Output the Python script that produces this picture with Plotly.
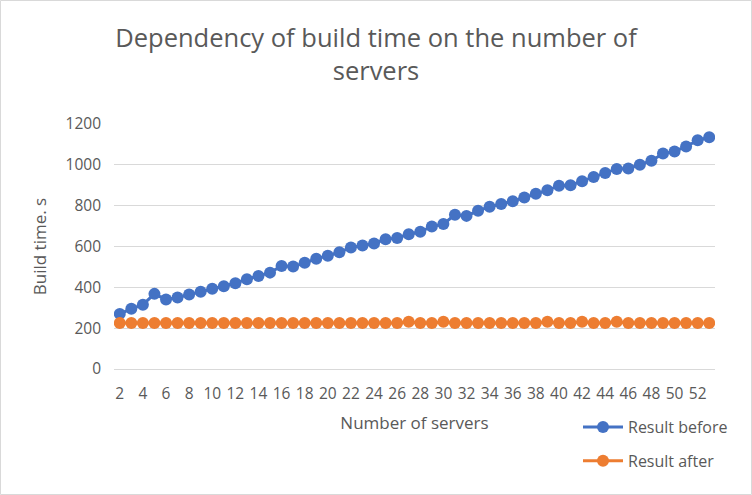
import plotly.graph_objects as go

servers = list(range(2, 54))
result_before = [270, 295, 315, 368, 340, 350, 365, 378, 393, 405, 420, 440, 455, 472,
                 505, 502, 520, 540, 555, 572, 595, 605, 615, 635, 642, 660, 672, 698,
                 710, 755, 750, 775, 795, 808, 822, 840, 858, 875, 898, 900, 920, 940,
                 960, 980, 982, 1000, 1020, 1055, 1065, 1090, 1120, 1135]
result_after = [225, 225, 225, 225, 225, 225, 225, 225, 225, 225, 225, 225, 225, 225,
                225, 225, 225, 225, 225, 225, 225, 225, 225, 225, 225, 231, 225, 225,
                231, 225, 225, 225, 225, 225, 225, 225, 225, 231, 225, 225, 231, 225,
                225, 231, 225, 225, 225, 225, 225, 225, 225, 225]
x_ticks = list(range(2, 53, 2))

W, H = 752, 495
L, R, T, B = 114, 37, 124, 126

fig = go.Figure()
fig.add_trace(go.Scatter(x=servers, y=result_before, mode="lines+markers", name="Result before",
                         legendgroup="a",
                         line=dict(color="#4472C4", width=3),
                         marker=dict(color="#4472C4", size=12)))
fig.add_trace(go.Scatter(x=servers, y=result_after, mode="lines+markers", name="Result after",
                         legendgroup="b",
                         line=dict(color="#ED7D31", width=3),
                         marker=dict(color="#ED7D31", size=12)))

pw = W - L - R
ph = H - T - B
fig.update_layout(
    width=W, height=H,
    margin=dict(l=L, r=R, t=T, b=B),
    paper_bgcolor="white", plot_bgcolor="white",
    font=dict(family="Open Sans, Liberation Sans, sans-serif", color="#595959", size=15),
    title=dict(text="Dependency of build time on the number of<br>servers",
               x=0.5, xanchor="center", y=1 - 47 / H, yanchor="middle",
               font=dict(size=25.5, color="#595959")),
    xaxis=dict(range=[1.5, 53.5], tickvals=x_ticks, ticktext=[str(v) for v in x_ticks],
               showgrid=False, zeroline=False, showline=True, linecolor="#D9D9D9", linewidth=1,
               ticks="", ticklabelstandoff=10, tickfont=dict(size=15.5, color="#595959"),
               title=dict(text="Number of servers", font=dict(size=17, color="#595959"), standoff=14)),
    yaxis=dict(range=[0, 1200], dtick=200, showgrid=True, gridcolor="#D9D9D9", gridwidth=1,
               zeroline=False, showline=False, ticks="", ticklabelstandoff=12,
               tickfont=dict(size=15.5, color="#595959"),
               title=dict(text="Build time. s", font=dict(size=17, color="#595959"), standoff=14)),
    legend=dict(x=(578 - L) / pw, y=(H - B - 410) / ph, xanchor="left", yanchor="top",
                font=dict(size=16, color="#595959"), traceorder="grouped", tracegroupgap=10,
                itemwidth=40, bgcolor="rgba(0,0,0,0)"),
    showlegend=True,
)
fig.add_shape(type="rect", xref="paper", yref="paper",
              x0=-(L - 0.5) / pw, x1=1 + (R - 0.5) / pw,
              y0=-(B - 0.5) / ph, y1=1 + (T - 0.5) / ph,
              line=dict(color="#D9D9D9", width=1), layer="below")
fig.write_html("out.html", config={"displayModeBar": False},
               post_script="document.body.style.margin='0';document.body.style.padding='0';")
